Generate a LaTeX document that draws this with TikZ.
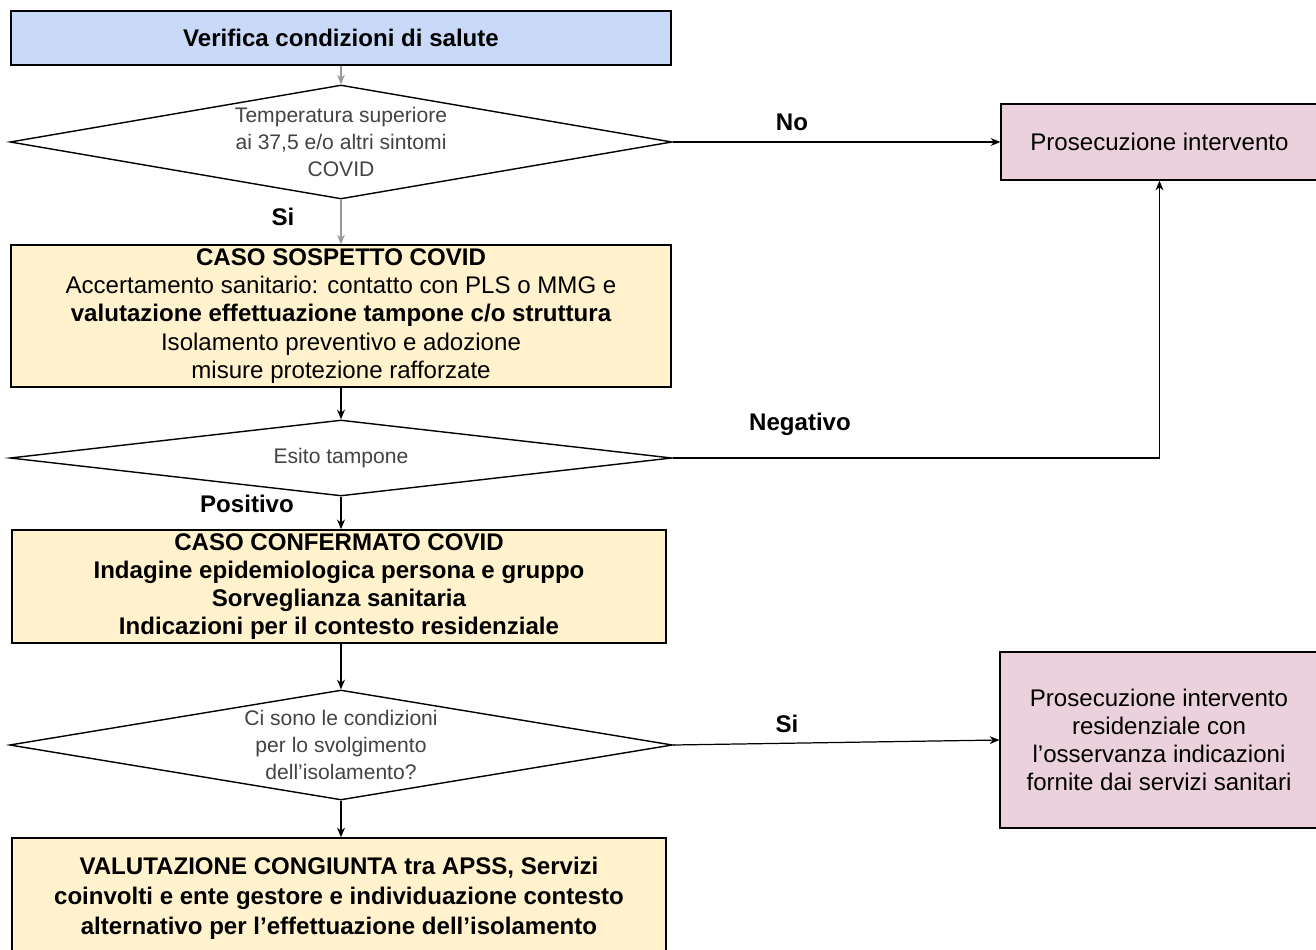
\documentclass[tikz,border=0pt]{standalone}
\usepackage{fontspec}
\setmainfont{Liberation Sans}
\usepackage{tikz}
\usetikzlibrary{arrows.meta,positioning}
\usetikzlibrary{shapes.geometric}

\definecolor{boxblue}{HTML}{C9DAF8}
\definecolor{boxyellow}{HTML}{FFF2CC}
\definecolor{boxpink}{HTML}{EAD1DC}
\definecolor{difftext}{HTML}{434343}
\definecolor{greyarrow}{HTML}{999999}

\begin{document}
\begin{tikzpicture}[x=0.02cm, y=-0.02cm,
    font=\fontsize{13.7}{16}\selectfont,
    box/.style={draw, line width=0.8pt, align=center, inner sep=2pt},
    decision/.style={draw, diamond, line width=0.8pt, fill=white, align=center,
        inner sep=0pt, text=difftext, font=\fontsize{12}{15.3}\selectfont},
    flow/.style={line width=0.7pt, -{Stealth[length=5.5pt,width=4.5pt]}},
    lbl/.style={font=\fontsize{13.7}{16}\selectfont\bfseries}]

\useasboundingbox (0,0) rectangle (1316,950);

% ===============================================================
% Left column
% ===============================================================

\node[box, fill=boxblue, minimum width=13.2cm, minimum height=1.08cm] (verifica) at (341,38)
    {\bfseries Verifica condizioni di salute};

\node[decision, aspect=5.8, minimum width=13.24cm, minimum height=2.28cm] (temp) at (341,142)
    {Temperatura superiore\\ai 37,5 e/o altri sintomi\\COVID};

\node[box, fill=boxyellow, minimum width=13.2cm, minimum height=2.84cm] (sospetto) at (341,316)
    {\bfseries CASO SOSPETTO COVID\\
     Accertamento sanitario: contatto con PLS o MMG e\\
     \bfseries valutazione effettuazione tampone c/o struttura\\
     Isolamento preventivo e adozione\\
     misure protezione rafforzate};

\node[decision, aspect=8.7, minimum width=13.24cm, minimum height=1.52cm] (esito) at (341,458)
    {Esito tampone};

\node[box, fill=boxyellow, minimum width=13.08cm, minimum height=2.26cm,
      font=\fontsize{13.7}{16}\selectfont\bfseries] (confermato) at (339,586.5)
    {CASO CONFERMATO COVID\\
     Indagine epidemiologica persona e gruppo\\
     Sorveglianza sanitaria\\
     Indicazioni per il contesto residenziale};

\node[decision, aspect=6, minimum width=13.26cm, minimum height=2.2cm] (cond) at (341,745)
    {Ci sono le condizioni\\per lo svolgimento\\dell'isolamento?};

\node[box, fill=boxyellow, minimum width=13.08cm, minimum height=2.4cm,
      font=\fontsize{13.7}{17.2}\selectfont\bfseries] (valut) at (339,898)
    {VALUTAZIONE CONGIUNTA tra APSS, Servizi\\
     coinvolti e ente gestore e individuazione contesto\\
     alternativo per l'effettuazione dell'isolamento};

% ===============================================================
% Right column
% ===============================================================

\node[box, fill=boxpink, minimum width=6.34cm, minimum height=1.52cm] (prosec) at (1159.5,142)
    {Prosecuzione intervento};

\node[box, fill=boxpink, minimum width=6.36cm, minimum height=3.52cm] (prosecres) at (1159,740)
    {Prosecuzione intervento\\residenziale con\\l'osservanza indicazioni\\fornite dai servizi sanitari};

% ===============================================================
% Connectors
% ===============================================================

\draw[flow, greyarrow] (verifica) -- (temp);
\draw[flow, greyarrow] (temp) -- (sospetto);
\draw[flow] (sospetto) -- (esito);
\draw[flow] (esito.south) -- (esito.south |- confermato.north);
\draw[flow] (confermato.south -| cond.north) -- (cond);
\draw[flow] (cond) -- (valut.north -| cond.south);

\draw[flow] (temp.east) -- (prosec.west);
\draw[flow] (esito.east) -| (prosec.south);
\draw[flow] (cond.east) -- (prosecres.west);

% branch labels
\node[lbl] (lno)   at (792,122) {No};
\node[lbl] (lsi)   at (283,217) {Si};
\node[lbl] (lneg)  at (800,424) {Negativo};
\node[lbl] (lpos)  at (247,504) {Positivo};
\node[lbl] (lsi2)  at (787,724) {Si};

\end{tikzpicture}
\end{document}
